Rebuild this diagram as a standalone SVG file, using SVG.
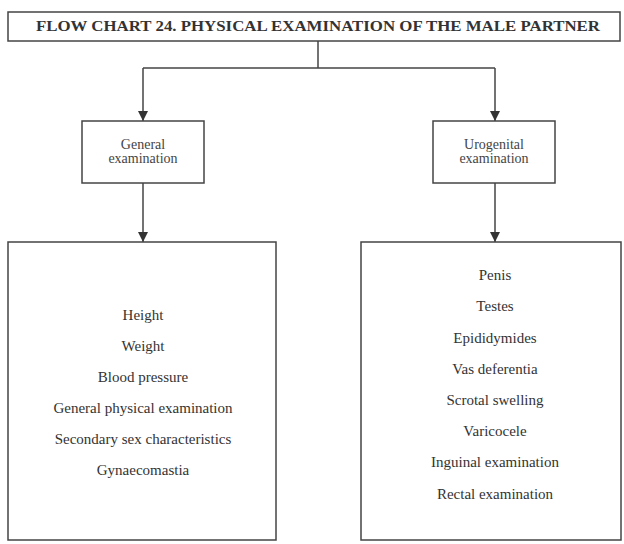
<svg xmlns="http://www.w3.org/2000/svg" width="624" height="544" viewBox="0 0 624 544">
<defs>
<marker id="arr" viewBox="0 0 10 10" refX="10" refY="5" markerWidth="10" markerHeight="10" markerUnits="userSpaceOnUse" orient="auto">
<path d="M0,0 L10,5 L0,10 z" fill="#333"/>
</marker>
</defs>
<style>
.box{fill:#fff;stroke:#444;stroke-width:1.5}
.con{fill:none;stroke:#444;stroke-width:1.5}
.t{font-family:"Liberation Serif","Times New Roman",serif;font-size:15px;fill:#333;text-anchor:middle}
.s{font-family:"Liberation Serif","Times New Roman",serif;font-size:14px;fill:#444;text-anchor:middle}
.title{font-family:"Liberation Serif","Times New Roman",serif;font-size:14px;font-weight:bold;fill:#333}
</style>
<rect width="624" height="544" fill="#fff"/>
<g id="connectors">
<path class="con" d="M318,41 V68"/>
<path class="con" d="M143,68 H495"/>
<path class="con" d="M143,68 V121" marker-end="url(#arr)"/>
<path class="con" d="M495,68 V121" marker-end="url(#arr)"/>
<path class="con" d="M143,183 V242" marker-end="url(#arr)"/>
<path class="con" d="M495,183 V242" marker-end="url(#arr)"/>
</g>
<g id="title">
<rect class="box" x="8" y="12" width="612" height="29"/>
<text class="title" x="36" y="31" textLength="564" lengthAdjust="spacingAndGlyphs">FLOW CHART 24. PHYSICAL EXAMINATION OF THE MALE PARTNER</text>
</g>
<g id="general">
<rect class="box" x="82" y="121" width="122" height="62"/>
<text class="s" x="143" y="149">General</text>
<text class="s" x="143" y="163">examination</text>
</g>
<g id="urogenital">
<rect class="box" x="433" y="121" width="122" height="62"/>
<text class="s" x="494" y="149">Urogenital</text>
<text class="s" x="494" y="163">examination</text>
</g>
<g id="general-list">
<rect class="box" x="8" y="242" width="268" height="298"/>
<text class="t" x="143" y="320">Height</text>
<text class="t" x="143" y="351">Weight</text>
<text class="t" x="143" y="382">Blood pressure</text>
<text class="t" x="143" y="413">General physical examination</text>
<text class="t" x="143" y="444">Secondary sex characteristics</text>
<text class="t" x="143" y="475">Gynaecomastia</text>
</g>
<g id="urogenital-list">
<rect class="box" x="361" y="242" width="260" height="298"/>
<text class="t" x="495" y="280">Penis</text>
<text class="t" x="495" y="311">Testes</text>
<text class="t" x="495" y="343">Epididymides</text>
<text class="t" x="495" y="374">Vas deferentia</text>
<text class="t" x="495" y="405">Scrotal swelling</text>
<text class="t" x="495" y="436">Varicocele</text>
<text class="t" x="495" y="467">Inguinal examination</text>
<text class="t" x="495" y="499">Rectal examination</text>
</g>
</svg>
